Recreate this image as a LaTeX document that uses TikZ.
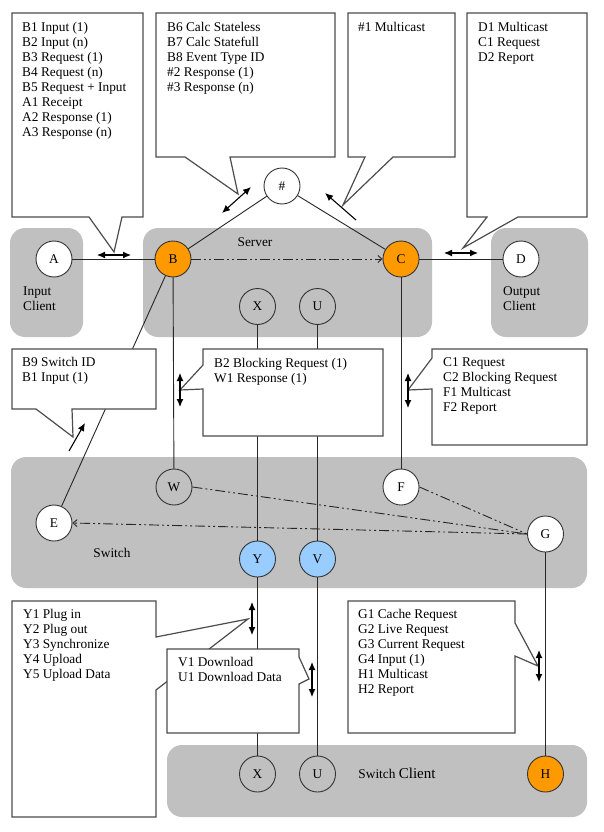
\documentclass[tikz,border=0pt]{standalone}
\usepackage{fontspec}
\setmainfont{Liberation Serif}
\usetikzlibrary{arrows.meta}

\definecolor{panelgray}{RGB}{192,192,192}
\definecolor{unitorange}{RGB}{255,153,0}
\definecolor{unitblue}{RGB}{153,204,255}
\newcommand{\diagfont}{\fontsize{13.33}{15}\selectfont}

\tikzset{
    panel/.style={fill=panelgray, rounded corners=15pt},
    unit/.style={circle, draw=black!80, line width=0.9pt, minimum size=36pt, inner sep=0pt, font=\diagfont},
    link/.style={draw=black!85, line width=0.9pt},
    dashdotdot/.style={dash pattern=on 10pt off 3pt on 2pt off 3pt on 2pt off 3pt},
    callout/.style={draw=black!70, fill=white, line width=1.2pt},
    note/.style={anchor=north west, inner sep=0pt, align=left, font=\diagfont},
    flow/.style={line width=1.1pt, {Latex[length=8pt,width=7pt]}-{Latex[length=8pt,width=7pt]}},
    oneway/.style={line width=1.1pt, -{Latex[length=8pt,width=7pt]}}
}

\begin{document}
\begin{tikzpicture}[x=1pt, y=-1pt]
    \useasboundingbox (0,0) rectangle (604,832);
    % Panels
    \fill[panel] (10,228) rectangle (83,337);
    \fill[panel] (143,228) rectangle (432,337);
    \fill[panel] (491,228) rectangle (588,337);
    \fill[panel] (11,457) rectangle (587,588);
    \fill[panel] (167,745) rectangle (587,817);
    \node[anchor=north west, inner sep=0pt, align=left, font=\diagfont] (inlabel) at (23,284.5) {\strut Input\\Client};
    \node[anchor=north west, inner sep=0pt, align=left, font=\diagfont] (outlabel) at (503,284.5) {\strut Output\\Client};
    \node[font=\diagfont] (serverlabel) at (255,242) {Server};
    \node[font=\diagfont] (switchlabel) at (112,553) {Switch};
    \node[font=\diagfont] (clientlabel) at (397,773) {Switch {\fontsize{15}{17}\selectfont Client}};

    % Units
    \node[unit, fill=white] (A) at (54,259) {A};
    \node[unit, fill=unitorange] (B) at (173,259) {B};
    \node[unit, fill=unitorange] (C) at (401,259) {C};
    \node[unit, fill=white] (D) at (521,259) {D};
    \node[unit, fill=white] (hash) at (282,186) {\#};
    \node[unit] (Xs) at (257.5,306.5) {X};
    \node[unit] (Us) at (317.5,306.5) {U};
    \node[unit] (W) at (174,487) {W};
    \node[unit, fill=white] (E) at (54,523) {E};
    \node[unit, fill=unitblue] (Y) at (257.5,559) {Y};
    \node[unit, fill=unitblue] (V) at (317.5,559) {V};
    \node[unit, fill=white] (F) at (401,487) {F};
    \node[unit, fill=white] (G) at (545.5,534) {G};
    \node[unit] (Xc) at (257.5,774) {X};
    \node[unit] (Uc) at (317.5,774) {U};
    \node[unit, fill=unitorange] (H) at (545.5,774) {H};

    % Connections
    \draw[link] (A) -- (B);
    \draw[link, dashdotdot, -{Straight Barb[length=4pt,width=7pt]}] (B) -- (C);
    \draw[link] (C) -- (D);
    \draw[link] (B) -- (hash);
    \draw[link] (hash) -- (C);
    \draw[link] (B) -- (E);
    \draw[link] (B) -- (W);
    \draw[link] (Xs) -- (Y);
    \draw[link] (Y) -- (Xc);
    \draw[link] (Us) -- (V);
    \draw[link] (V) -- (Uc);
    \draw[link] (C) -- (F);
    \draw[link] (G) -- (H);
    \draw[link, dashdotdot] (W.east) -- (G.west);
    \draw[link, dashdotdot] (F.east) -- (G.west);
    \draw[link, dashdotdot, -{Straight Barb[length=4pt,width=7pt]}] (G.west) -- (E.east);

    % Callouts
    \draw[callout] (12,13) -- (143,13) -- (143,217) -- (122,217) -- (114,252) -- (89,217) -- (12,217) -- cycle;
    \node[note] (inmsg) at (22,21) {\strut B1 Input (1)\\B2 Input (n)\\B3 Request (1)\\B4 Request (n)\\B5 Request + Input\\A1 Receipt\\A2 Response (1)\\A3 Response (n)};
    \draw[flow] (97,255) -- (131,255);

    \draw[callout] (156,13) -- (335,13) -- (335,157) -- (230,157) -- (238,194) -- (185,157) -- (156,157) -- cycle;
    \node[note] (calcmsg) at (167,21) {\strut B6 Calc Stateless\\B7 Calc Statefull\\B8 Event Type ID\\\#2 Response (1)\\\#3 Response (n)};
    \draw[flow] (222,213) -- (251,187);

    \draw[callout] (348,13) -- (455,13) -- (455,157) -- (393,157) -- (343,205) -- (365,157) -- (348,157) -- cycle;
    \node[note] (castmsg) at (358,21) {\strut\#1 Multicast};
    \draw[oneway] (356,220) -- (325,193);

    \draw[callout] (467,13) -- (587,13) -- (587,217) -- (518,217) -- (463,248) -- (487,217) -- (467,217) -- cycle;
    \node[note] (outmsg) at (478,21) {\strut D1 Multicast\\C1 Request\\D2 Report};
    \draw[flow] (444,253) -- (478,253);

    \draw[callout] (12,349) -- (156,349) -- (156,409) -- (72,409) -- (73,437) -- (36,409) -- (12,409) -- cycle;
    \node[note] (switchmsg) at (22,356) {\strut B9 Switch ID\\B1 Input (1)};
    \draw[oneway] (69,451) -- (85,423);

    \draw[callout] (203,349) -- (383,349) -- (383,436) -- (203,436) -- (203,389) -- (180,390) -- (203,365) -- cycle;
    \node[note] (blockmsg) at (214,357) {\strut B2 Blocking Request (1)\\W1 Response (1)};
    \draw[flow] (180,373) -- (180,407);

    \draw[callout] (432,349) -- (587,349) -- (587,445) -- (432,445) -- (432,389) -- (408,390) -- (432,358) -- cycle;
    \node[note] (reqmsg) at (443,356) {\strut C1 Request\\C2 Blocking Request\\F1 Multicast\\F2 Report};
    \draw[flow] (408,373) -- (408,408);

    \draw[callout] (12,601) -- (156,601) -- (156,637) -- (248,619) -- (156,690) -- (156,817) -- (12,817) -- cycle;
    \node[note] (plugmsg) at (23,607.5) {\strut Y1 Plug in\\Y2 Plug out\\Y3 Synchronize\\Y4 Upload\\Y5 Upload Data};
    \draw[flow] (252,602) -- (252,635);

    \draw[callout] (167,649) -- (299,649) -- (299,657) -- (309,679) -- (299,684) -- (299,733) -- (167,733) -- cycle;
    \node[note] (loadmsg) at (178,655.5) {\strut V1 Download\\U1 Download Data};
    \draw[flow] (312,662) -- (312,697);

    \draw[callout] (348,601) -- (515,601) -- (515,623) -- (538,666) -- (515,656) -- (515,733) -- (348,733) -- cycle;
    \node[note] (cachemsg) at (358,607.5) {\strut G1 Cache Request\\G2 Live Request\\G3 Current Request\\G4 Input (1)\\H1 Multicast\\H2 Report};
    \draw[flow] (539,650) -- (539,682);
\end{tikzpicture}
\end{document}
